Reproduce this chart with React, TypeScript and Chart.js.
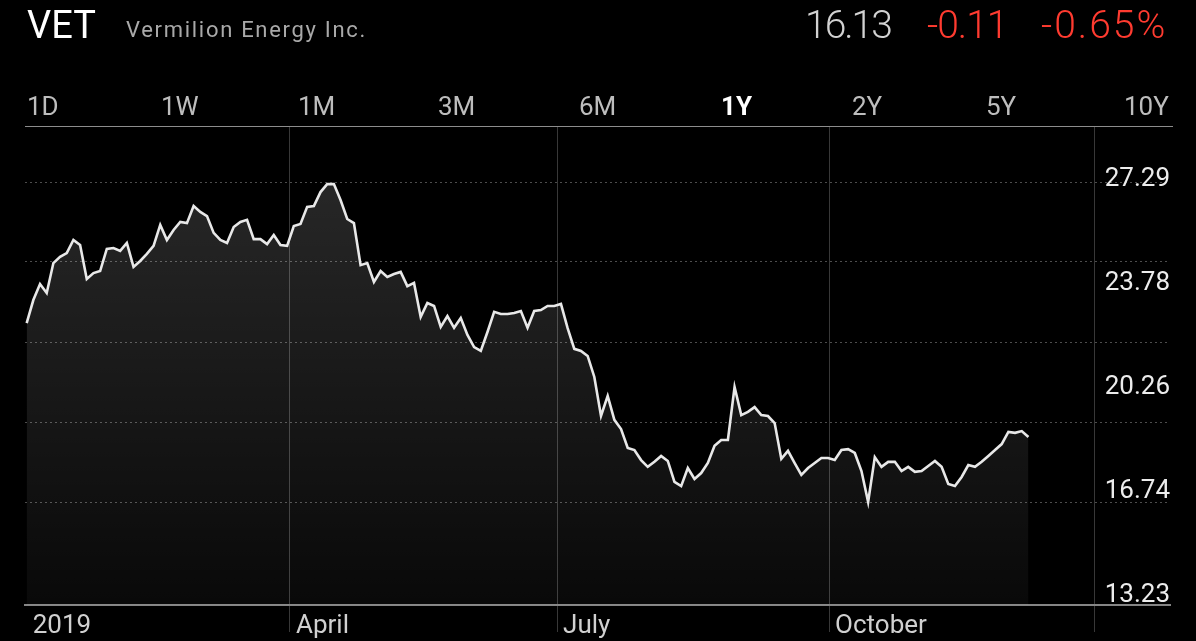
import React, { useEffect, useRef } from 'react';
import { Chart, registerables } from 'chart.js';

Chart.register(...registerables);

// ---- data ----
const symbol = 'VET';
const companyName = 'Vermilion Energy Inc.';
const lastPrice = '16.13';
const change = '-0.11';
const changePct = '-0.65%';

const ranges = ['1D', '1W', '1M', '3M', '6M', '1Y', '2Y', '5Y', '10Y'];
const selectedRange = '1Y';

const prices = [
  22.37, 23.15, 23.69, 23.39, 24.40, 24.61, 24.74, 25.18, 25.01, 23.86,
  24.06, 24.13, 24.88, 24.91, 24.81, 25.08, 24.27, 24.47, 24.71, 24.98,
  25.69, 25.18, 25.52, 25.79, 25.75, 26.33, 26.13, 25.99, 25.42, 25.18,
  25.08, 25.62, 25.79, 25.86, 25.21, 25.21, 25.04, 25.35, 25.01, 24.98,
  25.65, 25.72, 26.30, 26.33, 26.80, 27.07, 27.07, 26.53, 25.89, 25.75,
  24.33, 24.40, 23.76, 24.13, 23.93, 24.03, 24.10, 23.62, 23.73, 22.58,
  23.05, 22.95, 22.24, 22.61, 22.21, 22.54, 21.97, 21.56, 21.43, 22.07,
  22.75, 22.68, 22.68, 22.71, 22.78, 22.21, 22.78, 22.81, 22.95, 22.95,
  23.02, 22.20, 21.50, 21.43, 21.26, 20.55, 19.23, 19.91, 19.10, 18.79,
  18.15, 18.08, 17.74, 17.51, 17.68, 17.88, 17.71, 17.00, 16.86, 17.47,
  17.10, 17.30, 17.64, 18.22, 18.42, 18.42, 20.21, 19.26, 19.37, 19.53,
  19.26, 19.23, 18.99, 17.78, 18.05, 17.64, 17.24, 17.47, 17.64, 17.81,
  17.81, 17.74, 18.08, 18.11, 17.98, 17.37, 16.32, 17.84, 17.51, 17.68,
  17.68, 17.37, 17.51, 17.34, 17.37, 17.54, 17.71, 17.51, 16.93, 16.86,
  17.17, 17.57, 17.51, 17.68, 17.88, 18.08, 18.28, 18.69, 18.66, 18.72,
  18.52,
];

// x axis: month boundaries expressed in data-point index units
const monthLabels = ['2019', 'April', 'July', 'October', ''];
const monthTickIndex = [0, 39.43, 79.42, 120.15, 159.84];
const xMin = -0.25;
const xMax = 171.2;

// y axis
const priceLabels = [13.23, 16.74, 20.26, 23.78, 27.29];
const gridValues = [16.29, 19.0, 21.7, 24.44, 27.14];
const yMin = 12.84;
const yMax = 29.0;

const FONT = 'Roboto, "Noto Sans", "DejaVu Sans", sans-serif';

export default function App() {
  const canvasRef = useRef<HTMLCanvasElement | null>(null);

  useEffect(() => {
    document.body.style.margin = '0';
    document.body.style.background = '#000';
    const canvas = canvasRef.current;
    if (!canvas) return;

    const gridCol = (ctx: any) => (ctx.index === 0 ? 'rgba(0,0,0,0)' : 'rgba(255,255,255,0.22)');

    const chart = new Chart(canvas, {
      type: 'line',
      data: {
        datasets: [
          {
            data: prices.map((v, i) => ({ x: i, y: v })),
            borderColor: '#e8e8e8',
            borderWidth: 2.6,
            pointRadius: 0,
            tension: 0,
            fill: 'start',
            yAxisID: 'y',
            xAxisID: 'x',
            backgroundColor: (ctx: any) => {
              const { chart } = ctx;
              const area = chart.chartArea;
              if (!area) return 'rgba(255,255,255,0.1)';
              const g = chart.ctx.createLinearGradient(0, area.top, 0, area.bottom);
              g.addColorStop(0, 'rgba(255,255,255,0.17)');
              g.addColorStop(1, 'rgba(255,255,255,0.035)');
              return g;
            },
          },
        ],
      },
      options: {
        responsive: false,
        animation: false,
        devicePixelRatio: 1,
        layout: { padding: { left: 25, right: 26, top: 127, bottom: 0 } },
        plugins: { legend: { display: false }, tooltip: { enabled: false } },
        scales: {
          x: {
            type: 'linear',
            position: 'bottom',
            min: xMin,
            max: xMax,
            bounds: 'data',
            afterBuildTicks: (s: any) => {
              s.ticks = monthTickIndex.map((v) => ({ value: v }));
            },
            afterFit: (s: any) => {
              s.height = 36;
            },
            ticks: {
              autoSkip: false,
              maxRotation: 0,
              minRotation: 0,
              align: 'start',
              labelOffset: 6,
              padding: -21,
              color: '#d0d0d0',
              font: { size: 26, family: FONT },
              callback: (_v: any, i: number) => monthLabels[i],
            },
            grid: {
              color: gridCol,
              tickColor: gridCol,
              lineWidth: 1,
              drawTicks: true,
              tickLength: 27,
            },
            border: { display: true, color: '#858585', width: 2 },
          },
          y: {
            type: 'linear',
            position: 'right',
            min: yMin,
            max: yMax,
            bounds: 'data',
            afterBuildTicks: (s: any) => {
              s.ticks = gridValues.map((v) => ({ value: v }));
            },
            afterFit: (s: any) => {
              s.width = 0;
            },
            ticks: { display: false },
            grid: { color: 'rgba(255,255,255,0.3)', lineWidth: 1, drawTicks: false },
            border: { display: false, dash: [2, 3] },
          },
          yL: {
            type: 'linear',
            position: 'right',
            min: yMin,
            max: yMax,
            bounds: 'data',
            afterBuildTicks: (s: any) => {
              s.ticks = priceLabels.map((v) => ({ value: v }));
            },
            afterFit: (s: any) => {
              s.width = 0;
            },
            ticks: {
              mirror: true,
              padding: 0,
              labelOffset: 2,
              color: '#ececec',
              font: { size: 26, family: FONT },
              callback: (v: any) => Number(v).toFixed(2),
            },
            grid: { display: false, drawTicks: false },
            border: { display: false },
          },
        },
      } as any,
    });

    return () => chart.destroy();
  }, []);

  const btnLeft = [27, 161, 298, 438, 579, 721, 852, 986, 1124];

  const base: React.CSSProperties = {
    position: 'absolute',
    fontFamily: FONT,
    lineHeight: 1,
    whiteSpace: 'nowrap',
    margin: 0,
  };

  return (
    <div style={{ position: 'relative', width: 1196, height: 641, background: '#000', overflow: 'hidden' }}>
      <canvas ref={canvasRef} width={1196} height={641} style={{ position: 'absolute', left: 0, top: 0, width: 1196, height: 641 }} />
      <div style={{ ...base, left: 27, top: 6, fontSize: 38, color: '#ffffff', fontWeight: 400 }}>{symbol}</div>
      <div style={{ ...base, left: 126, top: 19, fontSize: 22, color: '#a9a9a9', letterSpacing: '1.7px' }}>{companyName}</div>
      <div style={{ ...base, left: 805, top: 5.5, fontSize: 39, color: '#d2d2d2', fontWeight: 300, letterSpacing: '-2px' }}>{lastPrice}</div>
      <div style={{ ...base, left: 927, top: 5.5, fontSize: 39, color: '#ff3b30', fontWeight: 300, letterSpacing: '-1px' }}>{change}</div>
      <div style={{ ...base, left: 1041, top: 5.5, fontSize: 39, color: '#ff3b30', fontWeight: 300, letterSpacing: '2px' }}>{changePct}</div>
      {ranges.map((r, i) => (
        <div
          key={r}
          style={{
            ...base,
            left: btnLeft[i],
            top: 93,
            fontSize: 26,
            color: r === selectedRange ? '#ffffff' : '#bdbdbd',
            fontWeight: r === selectedRange ? 700 : 400,
          }}
        >
          {r}
        </div>
      ))}
      <div style={{ position: 'absolute', left: 25, top: 126, width: 1148, height: 1, background: '#8c8c8c' }} />
    </div>
  );
}
